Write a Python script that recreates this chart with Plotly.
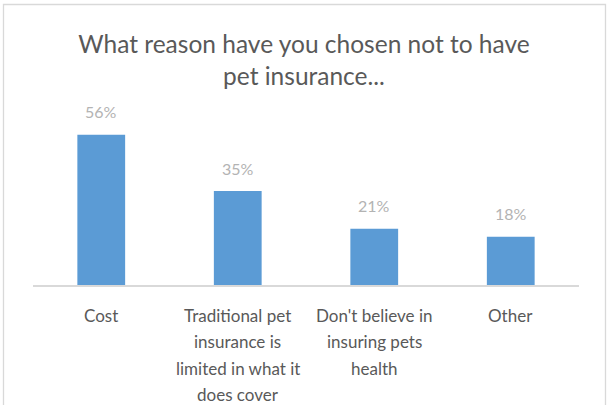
import plotly.graph_objects as go

category_lines = [["Cost"],
                  ["Traditional pet", "insurance is", "limited in what it", "does cover"],
                  ["Don't believe in", "insuring pets", "health"],
                  ["Other"]]
categories = [" ".join(c) for c in category_lines]
values = [56, 35, 21, 18]
labels = ["56%", "35%", "21%", "18%"]
title_text = "What reason have you chosen not to have<br>pet insurance..."

FONT = "Lato, 'Open Sans', sans-serif"

fig = go.Figure()
fig.add_trace(go.Bar(
    x=categories, y=values,
    marker=dict(color="#5b9bd5", line=dict(width=0)),
    width=0.35,
))

for c, v, t in zip(categories, values, labels):
    fig.add_annotation(x=c, y=v, text=t, showarrow=False, yshift=23,
                       font=dict(family=FONT, size=16, color="#b3b3b3"))

for c, lines in zip(categories, category_lines):
    for i, line in enumerate(lines):
        fig.add_annotation(x=c, y=0, text=line, showarrow=False,
                           yanchor="middle", yshift=-(30 + 26.5 * i),
                           font=dict(family=FONT, size=17, color="#595959"))

# chart border
l, r, t_, b_ = 33, 29, 124, 120
W, H = 608, 405
pw, ph = W - l - r, H - t_ - b_
def px(x): return (x - l) / pw
def py(y): return (H - b_ - y) / ph
fig.add_shape(type="rect", xref="paper", yref="paper",
              x0=px(3.5), x1=px(605.5), y0=py(4.5), y1=py(420),
              line=dict(color="#d9d9d9", width=1.3), fillcolor="rgba(0,0,0,0)")

fig.update_layout(
    width=W, height=H,
    margin=dict(l=l, r=r, t=t_, b=b_, autoexpand=False),
    paper_bgcolor="white", plot_bgcolor="white",
    showlegend=False,
    title=dict(text=title_text, x=0.5, xanchor="center", y=0.87, yanchor="top",
               font=dict(family=FONT, size=24.5, color="#595959")),
    xaxis=dict(showline=True, linecolor="#d9d9d9", linewidth=1.5, ticks="",
               showticklabels=False, automargin=False,
               showgrid=False, fixedrange=True),
    yaxis=dict(range=[0, 60], visible=False, showgrid=False, fixedrange=True,
               automargin=False),
    font=dict(family=FONT),
)

fig.write_html("out.html", config={"displayModeBar": False},
               post_script="document.body.style.margin='0';")
